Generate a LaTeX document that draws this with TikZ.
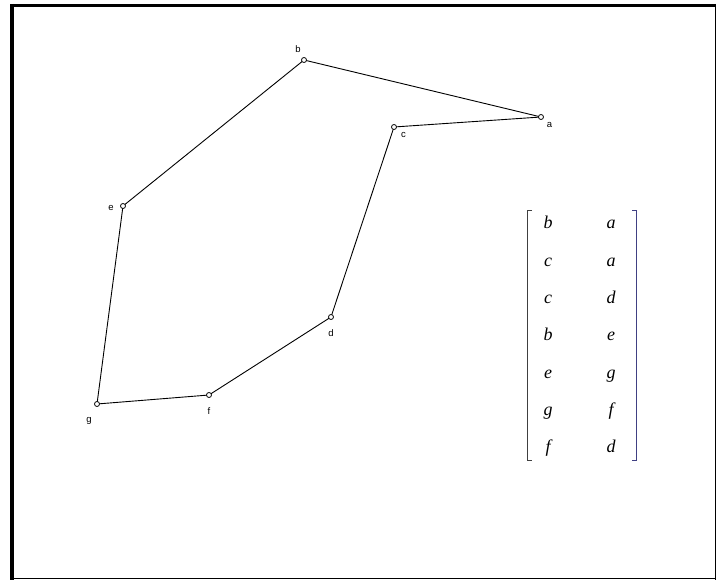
\documentclass[tikz,border=0pt]{standalone}
\usepackage{fontspec}
\setmainfont{Liberation Serif}
\newfontfamily\lblfont{Liberation Sans}
\begin{document}
\begin{tikzpicture}[x=1pt,y=-1pt,
  vtx/.style={circle,draw=black,fill=white,line width=0.8pt,inner sep=0pt,minimum size=5pt},
  lbl/.style={font=\lblfont\fontsize{9.5}{11}\selectfont,inner sep=0pt,text=black},
  edge/.style={line width=0.9pt,black},
  ent/.style={font=\itshape\fontsize{18}{21}\selectfont,inner sep=0pt,anchor=base},
  brk/.style={line width=1.1pt}]
\useasboundingbox (0,0) rectangle (716,580);
\fill[white] (0,0) rectangle (716,580);
% frame
\draw[line width=3.6pt] (10,5.7) -- (716,5.7);
\draw[line width=4pt] (12.3,4) -- (12.3,580);
\draw[line width=1pt] (10,578.8) -- (716,578.8);
\draw[line width=0.8pt] (715.4,4) -- (715.4,580);
% vertices
\coordinate (pa) at (541,117);
\coordinate (pb) at (304,60);
\coordinate (pc) at (394,127);
\coordinate (pd) at (331,317);
\coordinate (pe) at (123,206);
\coordinate (pf) at (209,395);
\coordinate (pg) at (97,404);
\draw[edge] (pb) -- (pa);
\draw[edge] (pc) -- (pa);
\draw[edge] (pc) -- (pd);
\draw[edge] (pb) -- (pe);
\draw[edge] (pe) -- (pg);
\draw[edge] (pg) -- (pf);
\draw[edge] (pf) -- (pd);
\foreach \p in {pa,pb,pc,pd,pe,pf,pg} \node[vtx] (n\p) at (\p) {};
\node[lbl] (la) at (549.5,124.5) {a};
\node[lbl] (lb) at (298,49) {b};
\node[lbl] (lc) at (403.5,134.5) {c};
\node[lbl] (ld) at (331,333) {d};
\node[lbl] (le) at (111,208) {e};
\node[lbl] (lf) at (209,411) {f};
\node[lbl] (lg) at (89,421) {g};
% matrix brackets
\draw[brk,black!75] (532,210.5) -- (527.5,210.5) -- (527.5,460.5) -- (532,460.5);
\draw[brk,blue!35!black!75] (632,210.5) -- (636.5,210.5) -- (636.5,460.5) -- (632,460.5);
% entries
\foreach \r/\u/\v in {0/b/a,1/c/a,2/c/d,3/b/e,4/e/g,5/g/f,6/f/d} {
  \node[ent] (m\r a) at (548,229+37.3*\r) {\u};
  \node[ent] (m\r b) at (611,229+37.3*\r) {\v};
}
\end{tikzpicture}
\end{document}
